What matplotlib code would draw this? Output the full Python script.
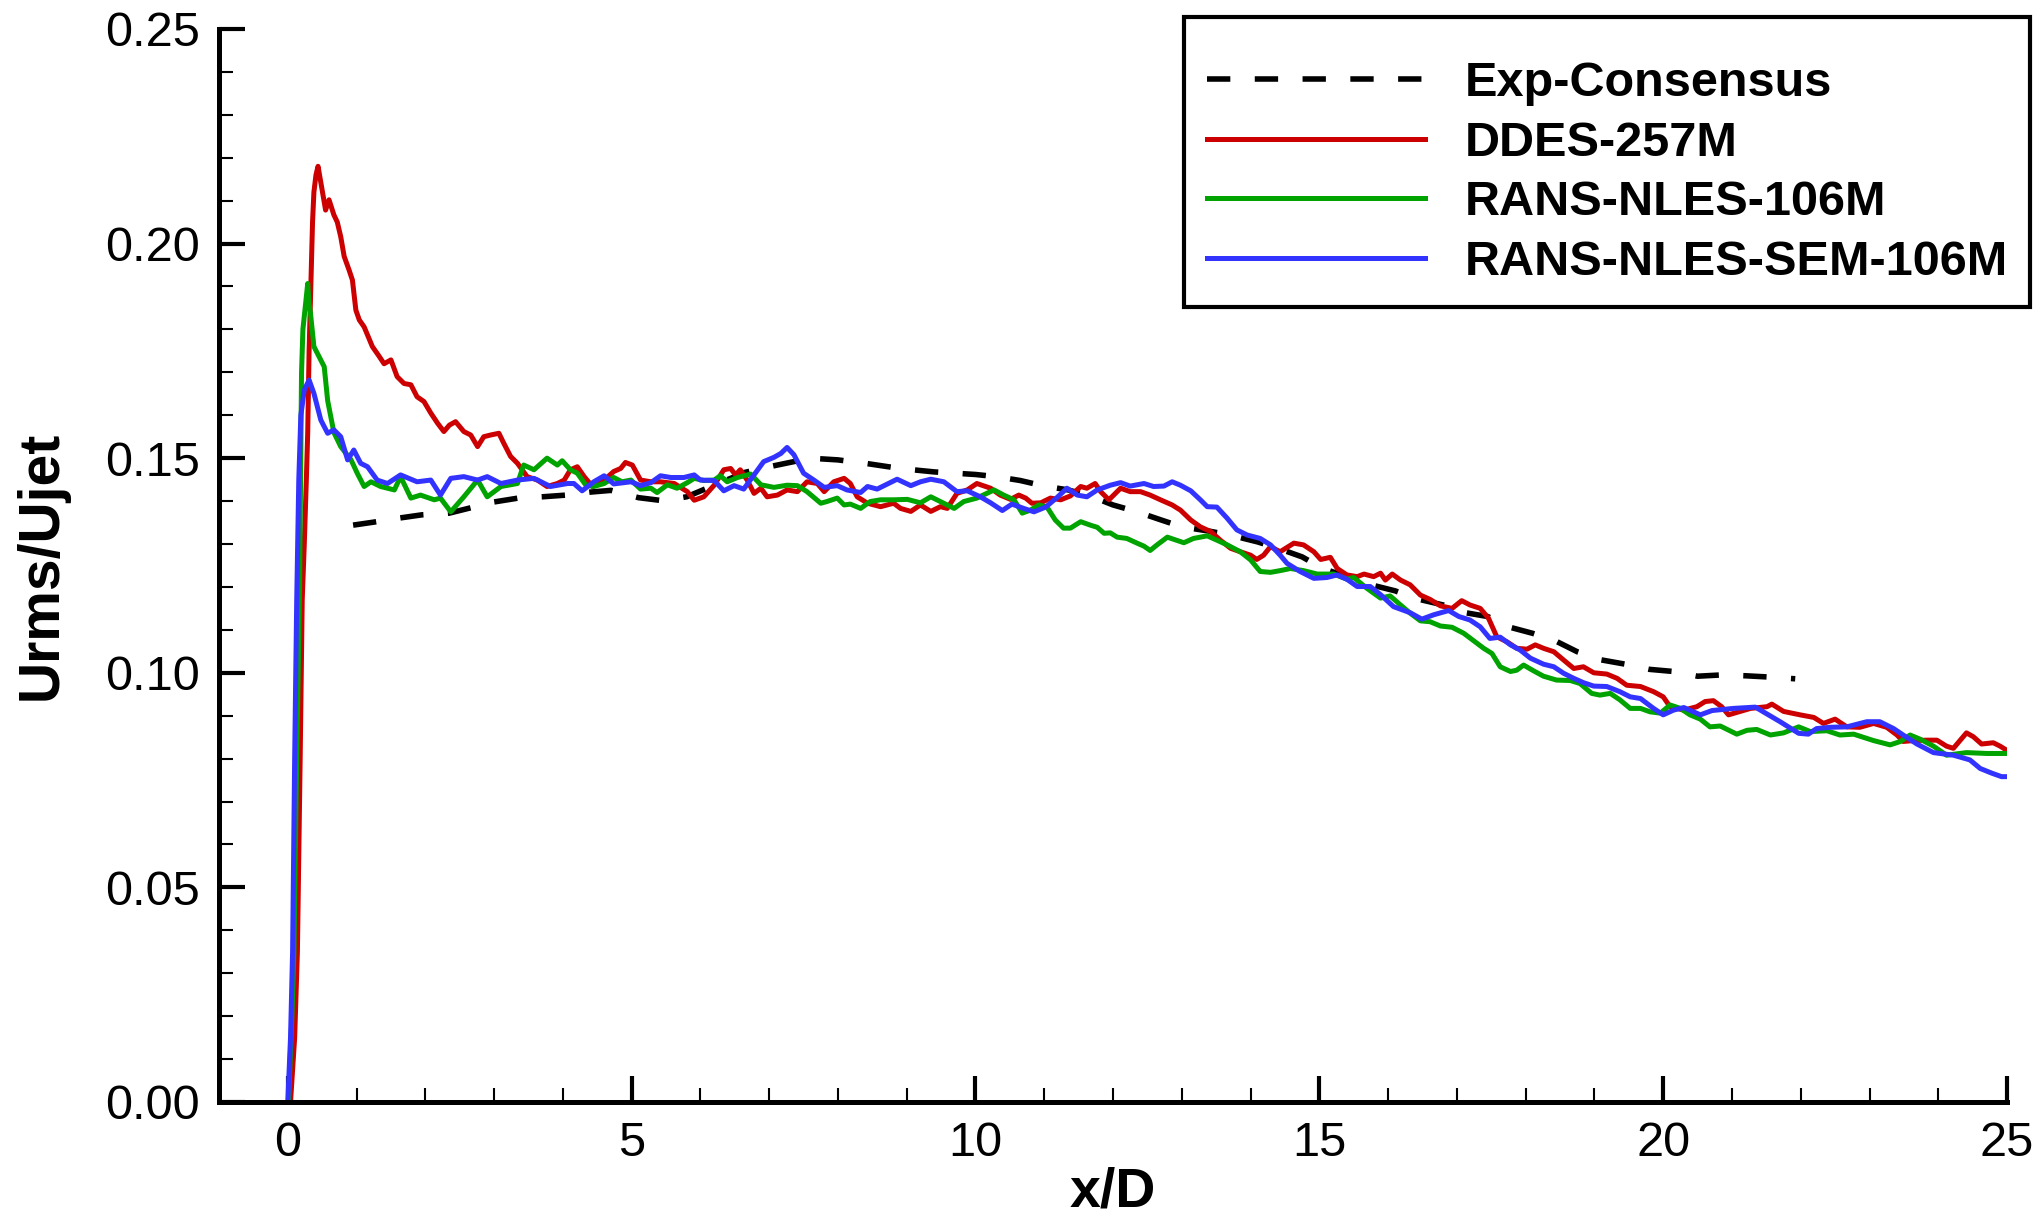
#!/usr/bin/env python3
import matplotlib
matplotlib.use("Agg")
import matplotlib.pyplot as plt
from matplotlib.ticker import MultipleLocator, FormatStrFormatter

plt.rcParams["font.family"] = ["Liberation Sans", "DejaVu Sans"]

# Exp-Consensus (dashed)
exp_x = [0.95, 1.25, 1.6, 1.95, 2.35, 2.65, 3.0, 3.35, 3.7, 4.05, 4.4, 4.7, 5.1, 5.45, 5.8,
         6.2, 6.65, 7.0, 7.3, 7.6, 8.0, 8.4, 8.9, 9.4, 10.0, 10.3, 10.65, 11.0, 11.35, 11.7,
         12.0, 12.35, 12.7, 13.0, 13.4, 13.7, 14.1, 14.4, 14.75, 15.05, 15.4, 15.75, 16.1,
         16.4, 16.8, 17.05, 17.45, 17.75, 18.1, 18.45, 18.75, 19.1, 19.45, 19.8, 20.15, 20.5,
         20.85, 21.2, 21.55, 21.92]
exp_y = [0.1344, 0.1351, 0.136, 0.1368, 0.1372, 0.1384, 0.1398, 0.1407, 0.141, 0.1414, 0.1421,
         0.1425, 0.1408, 0.1401, 0.141, 0.1437, 0.1467, 0.148, 0.149, 0.150, 0.1496, 0.1488,
         0.1476, 0.1468, 0.1462, 0.1457, 0.1448, 0.1435, 0.1426, 0.141, 0.1391, 0.1375, 0.1356,
         0.134, 0.133, 0.1321, 0.1305, 0.129, 0.127, 0.1243, 0.1224, 0.1205, 0.1191, 0.1173,
         0.1158, 0.1142, 0.1131, 0.1107, 0.1092, 0.1073, 0.1049, 0.103, 0.102, 0.1008, 0.1003,
         0.0992, 0.0995, 0.0993, 0.099, 0.0986]

# DDES-257M
ddes_x = [0.04, 0.10, 0.14, 0.18, 0.21, 0.24, 0.27, 0.29, 0.31, 0.33, 0.36, 0.38, 0.41, 0.44,
          0.50, 0.55, 0.60, 0.67, 0.72, 0.77, 0.82, 0.89, 0.94, 0.99, 1.04, 1.11, 1.16, 1.23,
          1.33, 1.40, 1.50, 1.59, 1.69, 1.79, 1.88, 1.98, 2.08, 2.18, 2.27, 2.35, 2.44, 2.56,
          2.66, 2.76, 2.85, 2.95, 3.07, 3.14, 3.24, 3.34, 3.48, 3.63, 3.77, 3.92, 4.02, 4.11,
          4.21, 4.31, 4.43, 4.60, 4.74, 4.84, 4.91, 5.01, 5.13, 5.28, 5.42, 5.62, 5.81, 5.91,
          6.05, 6.20, 6.34, 6.44, 6.51, 6.58, 6.68, 6.78, 6.88, 6.97, 7.12, 7.26, 7.41, 7.55,
          7.70, 7.80, 7.94, 8.09, 8.18, 8.28, 8.43, 8.62, 8.81, 8.91, 9.06, 9.20, 9.35, 9.49,
          9.59, 9.73, 9.88, 10.02, 10.22, 10.36, 10.51, 10.63, 10.73, 10.82, 10.95, 11.09,
          11.24, 11.38, 11.53, 11.62, 11.74, 11.82, 11.94, 12.01, 12.11, 12.25, 12.40, 12.54,
          12.69, 12.86, 12.98, 13.13, 13.27, 13.42, 13.56, 13.71, 13.85, 14.00, 14.09, 14.19,
          14.29, 14.43, 14.63, 14.77, 14.92, 15.02, 15.16, 15.26, 15.40, 15.55, 15.65, 15.79,
          15.89, 15.96, 16.06, 16.18, 16.32, 16.47, 16.61, 16.76, 16.93, 17.07, 17.19, 17.34,
          17.46, 17.58, 17.73, 17.87, 18.02, 18.14, 18.26, 18.41, 18.55, 18.70, 18.84, 18.99,
          19.18, 19.33, 19.47, 19.67, 19.86, 20.00, 20.10, 20.30, 20.49, 20.61, 20.73, 20.85,
          20.95, 21.12, 21.27, 21.51, 21.58, 21.75, 21.99, 22.19, 22.33, 22.50, 22.67, 22.86,
          23.06, 23.25, 23.40, 23.49, 23.64, 23.83, 23.98, 24.12, 24.22, 24.32, 24.41, 24.51,
          24.63, 24.80, 24.90, 24.99]
ddes_y = [0.0, 0.015, 0.035, 0.08, 0.117, 0.130, 0.145, 0.156, 0.175, 0.187, 0.205, 0.212, 0.216,
          0.218, 0.2125, 0.2078, 0.2102, 0.2067, 0.205, 0.2016, 0.197, 0.1939, 0.1915, 0.1845,
          0.1822, 0.1806, 0.1787, 0.176, 0.1737, 0.172, 0.1729, 0.169, 0.1674, 0.1671, 0.1643,
          0.1632, 0.1605, 0.1581, 0.1562, 0.1577, 0.1585, 0.1562, 0.1554, 0.1527, 0.155, 0.1554,
          0.1558, 0.1535, 0.1504, 0.1488, 0.1457, 0.1449, 0.1434, 0.1441, 0.1449, 0.1473, 0.148,
          0.1457, 0.1434, 0.1449, 0.1469, 0.1476, 0.149, 0.1484, 0.1449, 0.1445, 0.1445, 0.1441,
          0.1422, 0.1402, 0.141, 0.1437, 0.1473, 0.1476, 0.1461, 0.1473, 0.1449, 0.1418, 0.143,
          0.141, 0.1414, 0.1426, 0.1422, 0.1445, 0.1441, 0.1422, 0.1445, 0.1453, 0.1441, 0.141,
          0.1395, 0.1387, 0.1395, 0.1383, 0.1376, 0.1391, 0.1376, 0.1387, 0.1383, 0.1418, 0.1426,
          0.1441, 0.143, 0.1414, 0.1404, 0.1414, 0.1407, 0.1395, 0.1396, 0.1407, 0.1403, 0.1412,
          0.1434, 0.143, 0.1441, 0.1422, 0.1403, 0.1414, 0.143, 0.1422, 0.1422, 0.1414, 0.1403,
          0.1391, 0.1379, 0.1356, 0.134, 0.1329, 0.1309, 0.129, 0.1282, 0.1274, 0.1264, 0.1274,
          0.1294, 0.1282, 0.1302, 0.1298, 0.1282, 0.1264, 0.1269, 0.1243, 0.1228, 0.1224, 0.123,
          0.1224, 0.1232, 0.1216, 0.123, 0.1216, 0.1205, 0.1181, 0.1171, 0.1156, 0.115, 0.1168,
          0.1158, 0.115, 0.1127, 0.1084, 0.1072, 0.1057, 0.1055, 0.1065, 0.1057, 0.1049, 0.103,
          0.101, 0.1014, 0.1, 0.0997, 0.0987, 0.0971, 0.0968, 0.0956, 0.0944, 0.0921, 0.0913,
          0.0921, 0.0933, 0.0935, 0.0921, 0.0902, 0.091, 0.0917, 0.0921, 0.0927, 0.091, 0.0902,
          0.0896, 0.0882, 0.0892, 0.0874, 0.0873, 0.0882, 0.0873, 0.0855, 0.084, 0.0842, 0.0843,
          0.0843, 0.0829, 0.0824, 0.0843, 0.086, 0.0851, 0.0834, 0.0837, 0.0829, 0.082]

# RANS-NLES-106M
nles_x = [0.01, 0.03, 0.06, 0.09, 0.13, 0.17, 0.20, 0.22, 0.26, 0.29, 0.31, 0.33, 0.38, 0.48,
          0.53, 0.58, 0.67, 0.77, 0.92, 1.01, 1.11, 1.21, 1.35, 1.55, 1.64, 1.79, 1.93, 2.13,
          2.22, 2.37, 2.56, 2.76, 2.90, 3.10, 3.34, 3.43, 3.58, 3.77, 3.92, 3.99, 4.11, 4.21,
          4.33, 4.45, 4.60, 4.74, 4.86, 4.99, 5.13, 5.28, 5.37, 5.52, 5.66, 5.81, 5.91, 6.05,
          6.20, 6.29, 6.39, 6.54, 6.73, 6.88, 7.07, 7.26, 7.41, 7.55, 7.75, 7.84, 7.99, 8.09,
          8.18, 8.33, 8.47, 8.62, 8.81, 9.01, 9.20, 9.35, 9.49, 9.69, 9.83, 10.02, 10.27, 10.41,
          10.56, 10.68, 10.80, 10.92, 11.04, 11.16, 11.28, 11.38, 11.53, 11.67, 11.77, 11.87,
          11.96, 12.06, 12.20, 12.35, 12.45, 12.54, 12.64, 12.79, 13.03, 13.17, 13.37, 13.51,
          13.66, 13.85, 14.00, 14.14, 14.29, 14.43, 14.58, 14.77, 14.97, 15.21, 15.40, 15.50,
          15.69, 15.89, 16.03, 16.18, 16.32, 16.47, 16.61, 16.76, 16.93, 17.10, 17.24, 17.39,
          17.51, 17.63, 17.78, 17.87, 17.97, 18.11, 18.26, 18.45, 18.65, 18.79, 18.96, 19.08,
          19.23, 19.37, 19.52, 19.67, 19.81, 19.96, 20.10, 20.25, 20.39, 20.54, 20.68, 20.83,
          21.07, 21.22, 21.36, 21.56, 21.75, 21.97, 22.14, 22.38, 22.57, 22.77, 23.06, 23.30,
          23.45, 23.59, 23.74, 23.93, 24.12, 24.41, 24.71, 24.99]
nles_y = [0.0, 0.008, 0.02, 0.035, 0.08, 0.117, 0.17, 0.18, 0.186, 0.1907, 0.186, 0.1838, 0.176,
          0.1729, 0.1713, 0.1634, 0.156, 0.1527, 0.1496, 0.1465, 0.1434, 0.1445, 0.1434, 0.1426,
          0.1457, 0.1407, 0.1414, 0.1403, 0.1407, 0.1375, 0.141, 0.1449, 0.141, 0.1434, 0.1441,
          0.1484, 0.1473, 0.150, 0.1484, 0.1494, 0.1473, 0.1465, 0.1438, 0.1434, 0.1441, 0.1455,
          0.1445, 0.1449, 0.1428, 0.143, 0.142, 0.1438, 0.143, 0.1443, 0.1453, 0.1448, 0.1449,
          0.1459, 0.1445, 0.1455, 0.1463, 0.1438, 0.1432, 0.1437, 0.1436, 0.1422, 0.1395, 0.1399,
          0.1407, 0.1391, 0.1393, 0.1383, 0.1399, 0.1403, 0.1403, 0.1404, 0.1396, 0.141, 0.1399,
          0.1383, 0.1399, 0.1407, 0.1426, 0.1414, 0.1403, 0.1372, 0.1379, 0.1391, 0.1386, 0.1356,
          0.1337, 0.1337, 0.1352, 0.1344, 0.1339, 0.1325, 0.1326, 0.1316, 0.1313, 0.1302, 0.1295,
          0.1285, 0.1298, 0.1316, 0.1303, 0.1313, 0.1319, 0.1309, 0.1298, 0.1282, 0.1263, 0.1236,
          0.1234, 0.1238, 0.1243, 0.1238, 0.123, 0.123, 0.1218, 0.1222, 0.1197, 0.1174, 0.1179,
          0.1158, 0.1139, 0.1121, 0.1119, 0.1109, 0.1106, 0.1092, 0.1075, 0.1057, 0.1045, 0.1014,
          0.1003, 0.1006, 0.1018, 0.1005, 0.0992, 0.0983, 0.0982, 0.0975, 0.0952, 0.0948, 0.0952,
          0.0937, 0.0917, 0.0917, 0.0909, 0.0906, 0.0925, 0.0917, 0.0902, 0.0892, 0.0874, 0.0876,
          0.0857, 0.0866, 0.0868, 0.0855, 0.086, 0.0874, 0.0863, 0.0865, 0.0855, 0.0857, 0.0842,
          0.0832, 0.084, 0.0855, 0.0845, 0.0829, 0.0808, 0.0814, 0.0812, 0.0812]

# RANS-NLES-SEM-106M
sem_x = [0.0, 0.04, 0.07, 0.10, 0.13, 0.16, 0.19, 0.24, 0.31, 0.38, 0.48, 0.58, 0.67, 0.77, 0.87,
         0.96, 1.06, 1.16, 1.30, 1.45, 1.64, 1.88, 2.08, 2.22, 2.37, 2.56, 2.76, 2.90, 3.10, 3.34,
         3.58, 3.82, 4.07, 4.16, 4.28, 4.45, 4.60, 4.74, 4.99, 5.13, 5.28, 5.42, 5.57, 5.76,
         5.91, 6.00, 6.20, 6.34, 6.49, 6.63, 6.78, 6.92, 7.07, 7.17, 7.26, 7.36, 7.50, 7.65,
         7.80, 7.99, 8.13, 8.33, 8.43, 8.57, 8.72, 8.86, 9.06, 9.20, 9.35, 9.54, 9.73, 9.88,
         10.07, 10.22, 10.39, 10.53, 10.70, 10.85, 11.02, 11.19, 11.33, 11.48, 11.62, 11.77,
         11.96, 12.11, 12.25, 12.45, 12.59, 12.74, 12.86, 12.98, 13.13, 13.27, 13.37, 13.51,
         13.66, 13.80, 13.95, 14.14, 14.29, 14.43, 14.53, 14.72, 14.92, 15.11, 15.26, 15.40,
         15.55, 15.74, 15.89, 16.08, 16.32, 16.49, 16.66, 16.88, 17.03, 17.19, 17.34, 17.48,
         17.63, 17.78, 17.92, 18.07, 18.26, 18.41, 18.55, 18.70, 18.84, 18.99, 19.18, 19.37,
         19.52, 19.67, 19.86, 20.00, 20.15, 20.30, 20.44, 20.54, 20.71, 21.02, 21.34, 21.51,
         21.70, 21.82, 21.97, 22.11, 22.23, 22.43, 22.67, 22.96, 23.15, 23.35, 23.49, 23.69,
         23.93, 24.22, 24.46, 24.61, 24.78, 24.92, 24.99]
sem_y = [0.0, 0.015, 0.035, 0.08, 0.117, 0.145, 0.16, 0.1659, 0.1682, 0.1651, 0.1589, 0.1558,
         0.1566, 0.155, 0.1496, 0.1519, 0.1488, 0.148, 0.1449, 0.1441, 0.1461, 0.1445, 0.1449,
         0.1414, 0.1453, 0.1457, 0.1449, 0.1457, 0.1441, 0.1449, 0.1453, 0.1434, 0.1441, 0.1441,
         0.1424, 0.1445, 0.1459, 0.144, 0.1445, 0.1436, 0.1443, 0.1459, 0.1455, 0.1455, 0.1461,
         0.1449, 0.1448, 0.1424, 0.1436, 0.1428, 0.1461, 0.1492, 0.1502, 0.1511, 0.1525, 0.1508,
         0.1465, 0.1449, 0.1432, 0.1436, 0.1426, 0.142, 0.1434, 0.1428, 0.144, 0.1451, 0.1436,
         0.1445, 0.1451, 0.1445, 0.1422, 0.1424, 0.141, 0.1396, 0.1378, 0.1393, 0.1383, 0.1375,
         0.1386, 0.1409, 0.143, 0.1414, 0.141, 0.1426, 0.1437, 0.1443, 0.1435, 0.1441, 0.1434,
         0.1435, 0.1445, 0.1437, 0.1424, 0.1403, 0.1387, 0.1386, 0.136, 0.1333, 0.1321, 0.1313,
         0.1298, 0.1274, 0.1255, 0.1236, 0.122, 0.1222, 0.1228, 0.1218, 0.1201, 0.1201, 0.1182,
         0.1154, 0.114, 0.1125, 0.1135, 0.1145, 0.1131, 0.1123, 0.1107, 0.108, 0.1083, 0.1065,
         0.1053, 0.1034, 0.102, 0.1014, 0.0999, 0.0987, 0.0977, 0.0969, 0.0968, 0.0956, 0.0944,
         0.094, 0.0917, 0.0902, 0.0913, 0.0919, 0.0909, 0.0902, 0.0912, 0.0917, 0.092, 0.0904,
         0.0886, 0.0874, 0.0859, 0.0857, 0.087, 0.0873, 0.0874, 0.0886, 0.0886, 0.087, 0.0855,
         0.0834, 0.0814, 0.0808, 0.0797, 0.0777, 0.0766, 0.0758, 0.0758]

labels = ["Exp-Consensus", "DDES-257M", "RANS-NLES-106M", "RANS-NLES-SEM-106M"]


def main():
    fig = plt.figure(figsize=(20.43, 12.17), dpi=100)
    ax = fig.add_axes([0.1072, 0.0945, 0.8752, 0.8817])

    lw = 3.6
    ax.plot(exp_x, exp_y, color="black", lw=4, dashes=(4.2, 4.4),
            dash_capstyle="butt", label=labels[0])
    ax.plot(ddes_x, ddes_y, color="#cc0000", lw=lw, label=labels[1])
    ax.plot(nles_x, nles_y, color="#00a300", lw=lw, label=labels[2])
    ax.plot(sem_x, sem_y, color="#3333ff", lw=lw, label=labels[3])

    ax.set_xlim(-1, 25)
    ax.set_ylim(0, 0.25)
    ax.xaxis.set_major_locator(MultipleLocator(5))
    ax.xaxis.set_minor_locator(MultipleLocator(1))
    ax.yaxis.set_major_locator(MultipleLocator(0.05))
    ax.yaxis.set_minor_locator(MultipleLocator(0.01))
    ax.yaxis.set_major_formatter(FormatStrFormatter("%.2f"))

    for side in ["top", "right"]:
        ax.spines[side].set_visible(False)
    for side in ["left", "bottom"]:
        ax.spines[side].set_linewidth(3.6)

    ax.tick_params(which="major", direction="in", length=19, width=3,
                   labelsize=35, pad=14)
    ax.tick_params(which="minor", direction="in", length=10, width=1.5)

    ax.set_xlabel("x/D", fontsize=40, fontweight="bold", labelpad=0)
    ax.set_ylabel("Urms/Ujet", fontsize=41, fontweight="bold", labelpad=26)

    leg = ax.legend(loc="upper right", bbox_to_anchor=(0.9936, 0.986),
                    bbox_transform=fig.transFigure, borderaxespad=0,
                    fancybox=False, framealpha=1, edgecolor="black",
                    handlelength=4.5, handletextpad=0.8, borderpad=0.46,
                    labelspacing=0.3, title=" ", title_fontsize=5,
                    prop={"size": 35, "weight": "bold"})
    leg.get_frame().set_linewidth(3)

    fig.savefig("out.png", dpi=100)


if __name__ == "__main__":
    main()
